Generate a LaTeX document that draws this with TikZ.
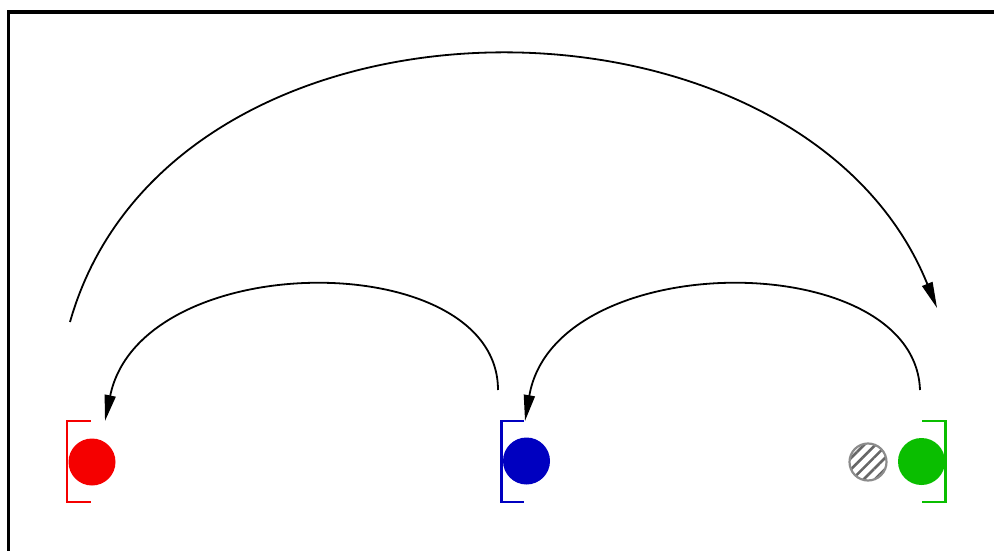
\documentclass[tikz,border=0pt]{standalone}
\usetikzlibrary{arrows.meta,patterns.meta}
\definecolor{cred}{RGB}{245,0,0}
\definecolor{cblue}{RGB}{0,0,192}
\definecolor{cgreen}{RGB}{10,190,0}
\tikzset{
  dot/.style={circle,inner sep=0pt,minimum size=47pt},
  bracketline/.style={line width=2.6pt},
  arc/.style={line width=1.8pt,-{Triangle[length=26pt,width=11pt]}},
}
\begin{document}
\begin{tikzpicture}[x=1pt,y=-1pt]
\useasboundingbox (0,0) rectangle (994,551);
% frame
\draw[line width=3.5pt] (8.5,560) -- (8.5,12) -- (1000,12);
% dots
\node[dot,fill=cred] (r) at (92,462) {};
\node[dot,fill=cblue] (b) at (526.5,461) {};
\node[dot,fill=cgreen] (g) at (921.5,461.5) {};
\node[circle,inner sep=0pt,minimum size=37pt,draw=black!45,line width=2.2pt,
  pattern={Lines[angle=45,distance=8pt,line width=2.6pt]},pattern color=black!60] (h) at (868,462) {};
% brackets
\draw[bracketline,cred] (90.5,421) -- (67,421) -- (67,502) -- (90.5,502);
\draw[bracketline,cblue] (524,421) -- (501.5,421) -- (501.5,502) -- (524,502);
\draw[bracketline,cgreen] (922,421) -- (945.5,421) -- (945.5,502) -- (922,502);
% arc endpoints
\coordinate (s1) at (70,322);
\coordinate (e1) at (937,308);
\coordinate (s2) at (498,390);
\coordinate (e2) at (105,421);
\coordinate (s3) at (920,390);
\coordinate (e3) at (525,421);
\draw[arc] (s1) .. controls (170,-31) and (800,-31) .. (e1);
\draw[arc] (s2) .. controls (498,246) and (141,246) .. (e2);
\draw[arc] (s3) .. controls (915,246) and (555,246) .. (e3);
\end{tikzpicture}
\end{document}
